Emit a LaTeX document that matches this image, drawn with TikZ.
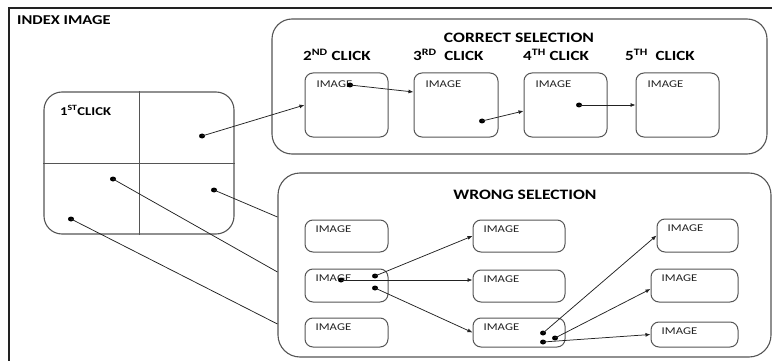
\documentclass[tikz,border=0pt]{standalone}
\usepackage{fontspec}
\setmainfont[FakeStretch=1.22]{Carlito}
\usetikzlibrary{arrows.meta,shapes.geometric}
\definecolor{edge}{HTML}{555555}
\definecolor{ink}{HTML}{222222}
\tikzset{
  panel/.style={draw=edge, line width=1.1pt, rounded corners=20pt, minimum width=#1},
  imgbox/.style={draw=edge, line width=1pt, rounded corners=8pt, inner sep=0pt},
  dot/.style={ellipse, fill=black, inner sep=0pt, minimum width=6pt, minimum height=5pt},
  link/.style={draw=ink, line width=0.75pt},
  arr/.style={link, -{Latex[length=5pt,width=4pt]}},
  title/.style={font=\bfseries\fontsize{14.4}{16}\selectfont, inner sep=0pt},
  clicklbl/.style={font=\bfseries\fontsize{14}{16}\selectfont, inner sep=0pt, anchor=west},
  imglbl/.style={font=\fontsize{10.4}{12}\selectfont, text=ink, inner sep=0pt, anchor=north west},
}
\begin{document}
\begin{tikzpicture}[x=1pt, y=-1pt]
\useasboundingbox (0,0) rectangle (772,361);

% outer frame: top and left rules only
\draw[ink, line width=1.3pt] (9,361) -- (9,8) -- (772,8);
\node[font=\bfseries\fontsize{13.5}{15}\selectfont, inner sep=0pt, anchor=west] (idx) at (17,20) {INDEX IMAGE};

% first click: four-way split image
\node[draw=edge, line width=1.1pt, rounded corners=18pt, minimum width=190pt, minimum height=142pt, inner sep=0pt] (q) at (139,163) {};
\draw[edge, line width=1pt] (q.north) -- (q.south);
\draw[edge, line width=1pt] (q.west) -- (q.east);
\node[font=\bfseries\fontsize{12}{14}\selectfont, inner sep=0pt, anchor=west] (first) at (60,110.5) {1\textsuperscript{ST}CLICK};
\node[dot] (qa) at (202,136) {};
\node[dot] (qb) at (214,190) {};
\node[dot] (qc) at (113,179) {};
\node[dot] (qd) at (71,219) {};

% correct selection panel
\node[panel=495pt, minimum height=135pt] (C) at (519.5,86.5) {};
\node[title] (ctitle) at (519,38) {CORRECT SELECTION};
\node[clicklbl] (k2) at (303,54.5) {2\textsuperscript{ND} CLICK};
\node[clicklbl] (k3) at (413,54.5) {3\textsuperscript{RD}\ \ CLICK};
\node[clicklbl] (k4) at (523,54.5) {4\textsuperscript{TH} CLICK};
\node[clicklbl] (k5) at (625,54.5) {5\textsuperscript{TH}\ \ CLICK};
\node[imgbox, minimum width=83pt, minimum height=64pt] (c1) at (346.5,105) {};
\node[imgbox, minimum width=84pt, minimum height=64pt] (c2) at (456,105) {};
\node[imgbox, minimum width=83pt, minimum height=64pt] (c3) at (565.5,105) {};
\node[imgbox, minimum width=83pt, minimum height=64pt] (c4) at (677.5,105) {};

% wrong selection panel
\node[panel=493pt, minimum height=184pt, rounded corners=22pt] (W) at (524.5,265) {};
\node[title] (wtitle) at (525,195) {WRONG SELECTION};
\node[imgbox, minimum width=83pt, minimum height=32pt] (w11) at (346.5,236) {};
\node[imgbox, minimum width=83pt, minimum height=33pt] (w12) at (346.5,285.5) {};
\node[imgbox, minimum width=83pt, minimum height=29pt] (w13) at (346.5,332.5) {};
\node[imgbox, minimum width=92pt, minimum height=32pt] (w21) at (519,236) {};
\node[imgbox, minimum width=92pt, minimum height=32pt] (w22) at (519,286) {};
\node[imgbox, minimum width=92pt, minimum height=29pt] (w23) at (519,332.5) {};
\node[imgbox, minimum width=81pt, minimum height=33pt] (w31) at (697.5,235.5) {};
\node[imgbox, minimum width=87pt, minimum height=33pt] (w32) at (694.5,285.5) {};
\node[imgbox, minimum width=87pt, minimum height=25pt] (w33) at (694.5,334.5) {};

% image captions
\foreach \b in {c1,c2,c3,c4}
  \node[imglbl] (\b t) at ([shift={(12pt,-8pt)}]\b.north west) {IMAGE};
\foreach \b in {w11,w12,w13,w21,w22,w23,w31,w32,w33}
  \node[imglbl] (\b t) at ([shift={(11pt,-6pt)}]\b.north west) {IMAGE};

% click points inside the images
\node[dot] (p1) at (350,85) {};
\node[dot] (p2) at (482,121) {};
\node[dot] (p3) at (579,105) {};
\node[dot] (r1) at (341,280) {};
\node[dot] (r2) at (375,276) {};
\node[dot] (r3) at (375,288) {};
\node[dot] (s1) at (543,333) {};
\node[dot] (s2) at (555,338) {};
\node[dot] (s3) at (543,342) {};

% correct sequence
\draw[arr] (qa.center) -- (c1.west);
\draw[arr] (p1.center) -- ([yshift=13pt]c2.west);
\draw[arr] (p2.center) -- ([yshift=-6pt]c3.west);
\draw[arr] (p3.center) -- (c4.west);

% wrong quadrants lead into the wrong panel
\draw[link] (qb.center) -- ([yshift=48pt]W.west);
\draw[link] (qc.center) -- ([yshift=-7pt]W.west);
\draw[link] (qd.center) -- ([yshift=-59pt]W.west);

% wrong branches
\draw[arr] (r1.center) -- ([yshift=6pt]w22.west);
\draw[arr] (r2.center) -- (w21.west);
\draw[arr] (r3.center) -- (w23.west);
\draw[arr] (s1.center) -- (w31.west);
\draw[arr] (s2.center) -- ([yshift=-3.5pt]w32.west);
\draw[arr] (s3.center) -- (w33.west);
\end{tikzpicture}
\end{document}
